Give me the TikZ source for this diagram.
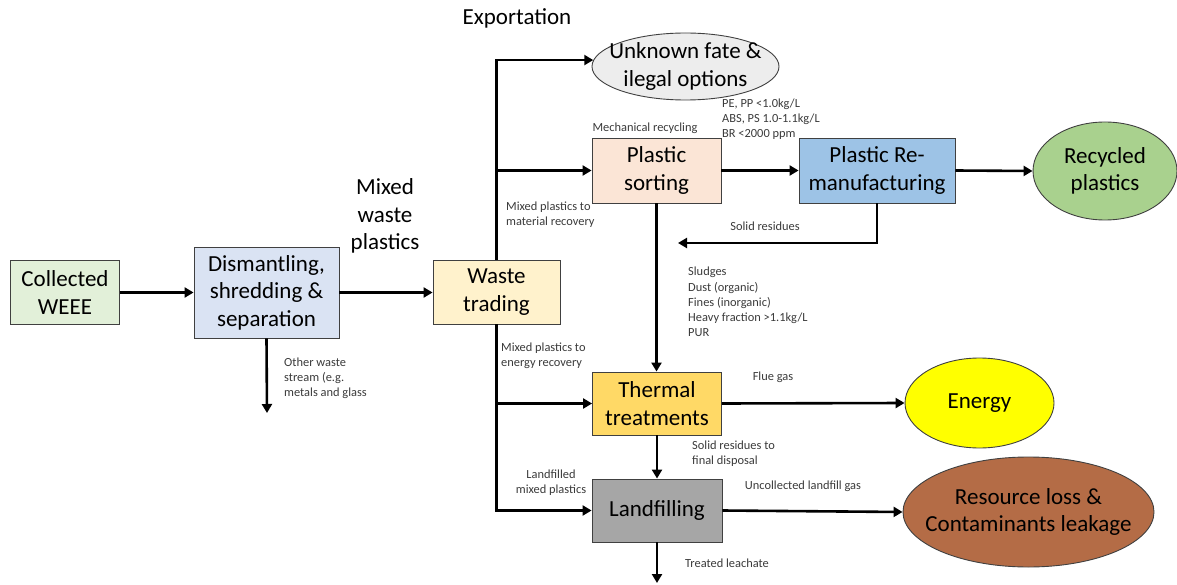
\documentclass[tikz,border=0pt]{standalone}
\usepackage{fontspec}
\setmainfont{Carlito}
\usetikzlibrary{arrows.meta,shapes.geometric}
\definecolor{cweee}{HTML}{E2F0D9}
\definecolor{cdism}{HTML}{DAE3F3}
\definecolor{ctrade}{HTML}{FFF2CC}
\definecolor{cunk}{HTML}{EDEDED}
\definecolor{csort}{HTML}{FBE5D6}
\definecolor{creman}{HTML}{9DC3E6}
\definecolor{crecyc}{HTML}{A9D18E}
\definecolor{ctherm}{HTML}{FFD966}
\definecolor{cenergy}{HTML}{FFFF00}
\definecolor{cland}{HTML}{A6A6A6}
\definecolor{closs}{RGB}{180,108,70}
\definecolor{cedge}{HTML}{404040}
\definecolor{csmall}{HTML}{3A3A3A}
\newcommand{\bigtxt}{\fontsize{23}{27.5}\selectfont}
\newcommand{\smalltxt}{\fontsize{12.4}{15.2}\selectfont}
\tikzset{
  procbox/.style={draw=cedge, line width=0.9pt, align=center, font=\bigtxt, inner sep=0pt, text=black},
  outell/.style={ellipse, draw=cedge, line width=0.9pt, inner sep=0pt},
  elltxt/.style={label={[font=\bigtxt, align=center, text=black, inner sep=0pt]center:#1}},
  arr/.style={line width=2.6pt, -{Triangle[length=9pt,width=10pt]}},
  lbl/.style={font=\smalltxt, text=csmall, inner sep=0pt},
  biglbl/.style={font=\bigtxt, text=black, inner sep=0pt, align=center},
}
\begin{document}
\begin{tikzpicture}[x=1pt,y=-1pt]
\useasboundingbox (0,0) rectangle (1177,585);
% nodes
\node[procbox, fill=cweee, minimum width=109pt, minimum height=64pt] (weee) at (65,292.5) {Collected\\WEEE};
\node[procbox, fill=cdism, minimum width=145pt, minimum height=91pt] (dism) at (266.5,292.5) {Dismantling,\\shredding \&\\separation};
\node[procbox, fill=ctrade, minimum width=127pt, minimum height=64pt] (trade) at (496.5,292) {Waste\\trading};
\node[outell, fill=cunk, minimum width=187pt, minimum height=67pt, elltxt={Unknown fate \&\\ilegal options}] (unk) at (685.5,66.5) {};
\node[procbox, fill=csort, minimum width=129pt, minimum height=65pt] (sort) at (656.5,170.5) {Plastic\\sorting};
\node[procbox, fill=creman, minimum width=156pt, minimum height=65pt] (reman) at (877,170.5) {Plastic Re-\\manufacturing};
\node[outell, fill=crecyc, minimum width=144pt, minimum height=98pt, elltxt={Recycled\\plastics}] (recyc) at (1105,171) {};
\node[procbox, fill=ctherm, minimum width=129pt, minimum height=63pt] (therm) at (657,403.5) {Thermal\\treatments};
\node[outell, fill=cenergy, minimum width=149pt, minimum height=90pt, elltxt={Energy}] (energy) at (979.5,403) {};
\node[procbox, fill=cland, minimum width=130pt, minimum height=63pt] (land) at (657,510.5) {Landfilling};
\node[outell, fill=closs, minimum width=251pt, minimum height=110pt, elltxt={Resource loss \&\\Contaminants leakage}] (loss) at (1028.5,512) {};
\coordinate (other) at (267,413);
\coordinate (resid) at (678,243);
\coordinate (leach) at (657,583);
% connectors
\draw[arr] (weee.east) -- (dism.west);
\draw[arr] (dism.east) -- (dism.east -| trade.west);
\draw[arr] (dism.south) -- (other);
\draw[arr] (trade.north) |- (unk.176);
\draw[arr] (trade.north |- sort.west) -- (sort.west);
\draw[arr] (sort.east) -- (reman.west);
\draw[arr] (reman.east) -- (recyc.west);
\draw[arr] (reman.south) |- (resid);
\draw[arr] (sort.south) -- (sort.south |- therm.north);
\draw[arr] (trade.south) |- (land.west);
\draw[arr] (trade.south |- therm.west) -- (therm.west);
\draw[arr] (therm.east) -- (energy.west);
\draw[arr] (therm.south) -- (land.north);
\draw[arr] (land.east) -- (loss.west);
\draw[arr] (land.south) -- (leach);
% labels
\node[biglbl] (lexp) at (517,18) {Exportation};
\node[biglbl] (lmix) at (385,216) {Mixed\\waste\\plastics};
\node[lbl, anchor=west, align=left] (lother) at (284,378) {Other waste\\stream (e.g.\\metals and glass};
\node[lbl] (lmech) at (645,128) {Mechanical recycling};
\node[lbl, anchor=west, align=left] (lmat) at (506,215) {Mixed plastics to\\material recovery};
\node[lbl, anchor=west, align=left] (lpe) at (722,119) {PE, PP <1.0kg/L\\ABS, PS 1.0-1.1kg/L\\BR <2000 ppm};
\node[lbl] (lsr) at (765,226) {Solid residues};
\node[lbl, anchor=west, align=left] (lslud) at (688,302) {Sludges\\Dust (organic)\\Fines (inorganic)\\Heavy fraction >1.1kg/L\\PUR};
\node[lbl, anchor=west, align=left] (lenr) at (501,356) {Mixed plastics to\\energy recovery};
\node[lbl] (lflue) at (773,377) {Flue gas};
\node[lbl, anchor=west, align=left] (lfin) at (692,454) {Solid residues to\\final disposal};
\node[lbl, align=center] (llmp) at (551,483) {Landfilled\\mixed plastics};
\node[lbl] (lgas) at (803,486) {Uncollected landfill gas};
\node[lbl, anchor=west] (lleach) at (685,563) {Treated leachate};
\end{tikzpicture}
\end{document}
